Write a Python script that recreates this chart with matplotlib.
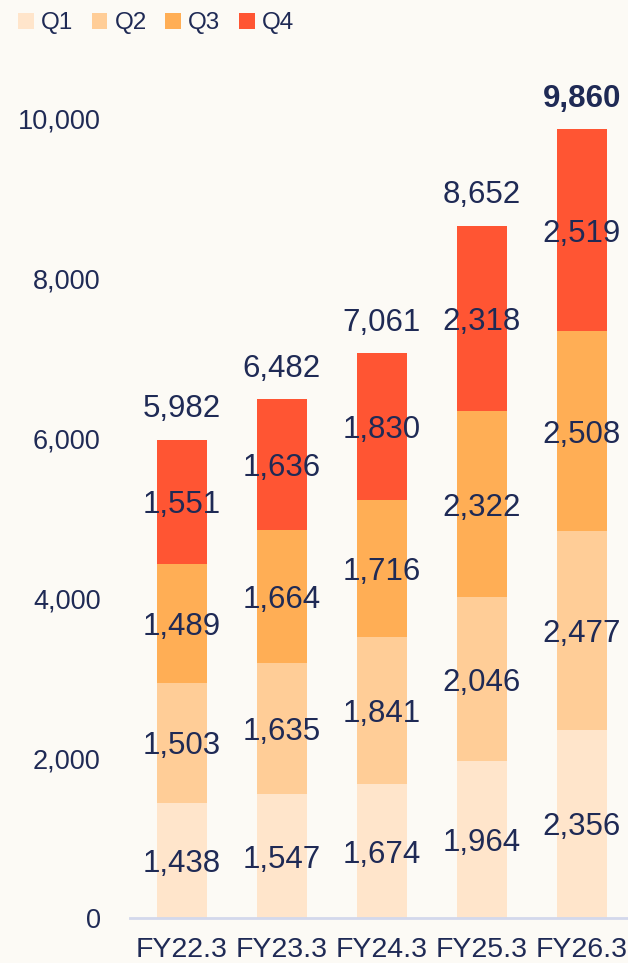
import matplotlib
matplotlib.use('Agg')
import matplotlib.pyplot as plt
import numpy as np

years = ['FY22.3', 'FY23.3', 'FY24.3', 'FY25.3', 'FY26.3']
quarters = ['Q1', 'Q2', 'Q3', 'Q4']
q1 = [1438, 1547, 1674, 1964, 2356]
q2 = [1503, 1635, 1841, 2046, 2477]
q3 = [1489, 1664, 1716, 2322, 2508]
q4 = [1551, 1636, 1830, 2318, 2519]
totals = [5982, 6482, 7061, 8652, 9860]

BG = '#fcfaf5'
NAVY = '#1f2a55'
colors = ['#ffe5cb', '#ffcd97', '#ffae55', '#ff5533']

plt.rcParams['font.family'] = ['Liberation Sans', 'DejaVu Sans']

fig = plt.figure(figsize=(6.28, 9.63), dpi=100, facecolor=BG)
ax = fig.add_axes([130/628, 45/963, 498/628, 918/963], facecolor=BG)

x = np.arange(len(years))
bottom = np.zeros(len(years))
for name, vals, c in zip(quarters, [q1, q2, q3, q4], colors):
    ax.bar(x, vals, 0.5, bottom=bottom, color=c, label=name, zorder=2)
    for xi, b, v in zip(x, bottom, vals):
        ax.text(xi, b + v/2 - 45, f'{v:,}', ha='center', va='center',
                fontsize=22.5, color=NAVY, zorder=3)
    bottom += vals

# totals above each stack, latest year in bold
for xi, t in zip(x, totals):
    last = xi == len(years) - 1
    ax.text(xi, t + 380, f'{t:,}', ha='center', va='center', fontsize=22.5,
            color=NAVY, weight='bold' if last else 'normal')

ax.set_xlim(-0.52, 4.46)
ax.set_ylim(0, 11475)
ax.set_xticks(x)
ax.set_xticklabels(years)
ax.set_yticks([0, 2000, 4000, 6000, 8000, 10000])
ax.set_yticklabels([f'{v:,}' for v in [0, 2000, 4000, 6000, 8000, 10000]])
ax.tick_params(axis='both', length=0, labelcolor=NAVY)
ax.tick_params(axis='y', pad=21, labelsize=19.5)
ax.tick_params(axis='x', pad=14, labelsize=20.5)
for s in ['top', 'right', 'left']:
    ax.spines[s].set_visible(False)
ax.spines['bottom'].set_color('#d3d8ec')
ax.spines['bottom'].set_linewidth(2)
ax.spines['bottom'].set_zorder(4)

fig.legend(loc='upper left', bbox_to_anchor=(-0.006, 1.01), ncol=4, frameon=False,
           handlelength=0.65, handleheight=0.65, handletextpad=0.3,
           columnspacing=0.75, fontsize=17.5, labelcolor=NAVY)

fig.savefig('out.png', dpi=100, facecolor=BG)
